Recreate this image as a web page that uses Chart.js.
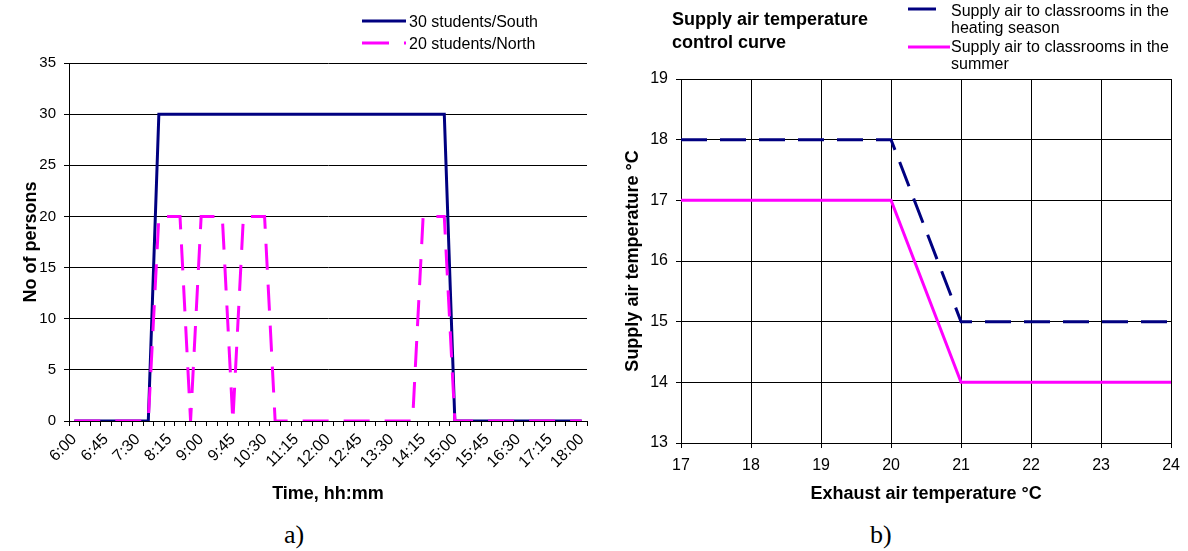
<!DOCTYPE html>
<html>
<head>
<meta charset="utf-8">
<script src="https://cdn.jsdelivr.net/npm/chart.js@4"></script>
<style>
  body { margin: 0; background: #fff; width: 1188px; height: 551px; position: relative; overflow: hidden; }
  canvas { position: absolute; top: 0; }
  #chartA { left: 0; }
  #chartB { left: 600px; }
  .cap { position: absolute; top: 520px; font-family: "Liberation Serif", "Times New Roman", serif; font-size: 26px; color: #000; }
</style>
</head>
<body>
<canvas id="chartA" width="600" height="509"></canvas>
<canvas id="chartB" width="588" height="509"></canvas>
<div class="cap" style="left:284px">a)</div>
<div class="cap" style="left:870px">b)</div>
<script>
// a) occupancy profile, 15 minute steps
const times = ["6:00","6:15","6:30","6:45","7:00","7:15","7:30","7:45","8:00","8:15","8:30","8:45",
  "9:00","9:15","9:30","9:45","10:00","10:15","10:30","10:45","11:00","11:15","11:30","11:45",
  "12:00","12:15","12:30","12:45","13:00","13:15","13:30","13:45","14:00","14:15","14:30","14:45",
  "15:00","15:15","15:30","15:45","16:00","16:15","16:30","16:45","17:00","17:15","17:30","17:45","18:00"];
const southPersons = [0,0,0,0,0,0,0,0,30,30,30,30,30,30,30,30,30,30,30,30,30,30,30,30,
  30,30,30,30,30,30,30,30,30,30,30,30,0,0,0,0,0,0,0,0,0,0,0,0,0];
const northPersons = [0,0,0,0,0,0,0,0,20,20,20,0,20,20,20,0,20,20,20,0,0,0,0,0,
  0,0,0,0,0,0,0,0,0,20,20,20,0,0,0,0,0,0,0,0,0,0,0,0,0];
const occupancyNames = ["30 students/South", "20 students/North"];

// b) supply air control curve
const exhaustTemps = [17, 20, 21, 24];
const supplyHeating = [18, 18, 15, 15];
const supplySummer = [17, 17, 14, 14];
const controlNames = ["Supply air to classrooms in the heating season", "Supply air to classrooms in the summer"];

const NAVY = '#000080';
const MAGENTA = '#ff00ff';
const FONT = 'Arial, "Liberation Sans", sans-serif';

Chart.defaults.font.family = FONT;
Chart.defaults.color = '#000';

// legend + title drawn at fixed spots like the original sheet
const sheetLegend = {
  id: 'sheetLegend',
  afterDraw(chart, args, opts) {
    const ctx = chart.ctx;
    ctx.save();
    ctx.fillStyle = '#000';
    ctx.textBaseline = 'middle';
    ctx.textAlign = 'left';
    if (opts.title) {
      ctx.font = 'bold 18px ' + FONT;
      opts.title.lines.forEach((t, i) => ctx.fillText(t, opts.title.x, opts.title.y + i * opts.title.lh));
    }
    opts.items.forEach(item => {
      const ds = chart.data.datasets[item.dataset];
      ctx.strokeStyle = ds.borderColor;
      ctx.lineWidth = ds.borderWidth;
      ctx.setLineDash(item.dash || []);
      ctx.beginPath();
      ctx.moveTo(item.x0, item.y);
      ctx.lineTo(item.x1, item.y);
      ctx.stroke();
      ctx.setLineDash([]);
      ctx.font = opts.fontSize + 'px ' + FONT;
      item.lines.forEach((t, i) => ctx.fillText(t, item.tx, item.ty + i * opts.lh));
    });
    ctx.restore();
  }
};

new Chart(document.getElementById('chartA'), {
  type: 'line',
  plugins: [sheetLegend],
  data: {
    labels: times,
    datasets: [{
      label: occupancyNames[1],
      data: northPersons,
      borderColor: MAGENTA,
      borderWidth: 3,
      borderDash: [26, 15],
      order: 0
    }, {
      label: occupancyNames[0],
      data: southPersons,
      borderColor: NAVY,
      borderWidth: 3,
      order: 1
    }]
  },
  options: {
    responsive: false,
    animation: false,
    layout: { padding: { left: 16, right: 13, top: 63, bottom: 0 } },
    elements: { point: { radius: 0 }, line: { tension: 0 } },
    plugins: {
      legend: { display: false },
      tooltip: { enabled: false },
      sheetLegend: {
        fontSize: 16, lh: 22,
        items: [
          { dataset: 1, x0: 362, x1: 406, y: 21, tx: 409, ty: 23, lines: [occupancyNames[0]] },
          { dataset: 0, x0: 362, x1: 406, y: 43, dash: [27, 15], tx: 409, ty: 45, lines: [occupancyNames[1]] }
        ]
      }
    },
    scales: {
      x: {
        offset: true,
        grid: { offset: true, drawOnChartArea: false, tickLength: 5, color: '#000' },
        border: { color: '#000' },
        ticks: {
          autoSkip: false, minRotation: 45, maxRotation: 45, padding: 4,
          font: { size: 16 },
          callback: function (v, i) { return i % 3 === 0 ? this.getLabelForValue(v) : ''; }
        },
        title: { display: true, text: 'Time, hh:mm', font: { size: 18, weight: 'bold' } },
        afterFit: s => { s.height = 88; }
      },
      y: {
        min: 0, max: 35,
        ticks: { stepSize: 5, font: { size: 15 }, padding: 8 },
        grid: { color: '#000', tickLength: 5 },
        border: { color: '#000' },
        title: { display: true, text: 'No of persons', font: { size: 18, weight: 'bold' } },
        afterFit: s => { s.width = 53; }
      }
    }
  }
});

new Chart(document.getElementById('chartB'), {
  type: 'line',
  plugins: [sheetLegend],
  data: {
    datasets: [{
      label: controlNames[0],
      data: exhaustTemps.map((x, i) => ({ x: x, y: supplyHeating[i] })),
      borderColor: NAVY,
      borderWidth: 3,
      borderDash: [26, 13]
    }, {
      label: controlNames[1],
      data: exhaustTemps.map((x, i) => ({ x: x, y: supplySummer[i] })),
      borderColor: MAGENTA,
      borderWidth: 3
    }]
  },
  options: {
    responsive: false,
    animation: false,
    layout: { padding: { left: 18, right: 13, top: 79, bottom: 0 } },
    elements: { point: { radius: 0 }, line: { tension: 0 } },
    plugins: {
      legend: { display: false },
      tooltip: { enabled: false },
      sheetLegend: {
        fontSize: 16, lh: 17,
        title: { x: 72, y: 20, lh: 23, lines: ['Supply air temperature', 'control curve'] },
        items: [
          { dataset: 0, x0: 308, x1: 350, y: 9, dash: [28, 14], tx: 351, ty: 12, lines: ['Supply air to classrooms in the', 'heating season'] },
          { dataset: 1, x0: 308, x1: 350, y: 47, tx: 351, ty: 48, lines: ['Supply air to classrooms in the', 'summer'] }
        ]
      }
    },
    scales: {
      x: {
        type: 'linear', min: 17, max: 24,
        ticks: { stepSize: 1, font: { size: 16 }, padding: 8 },
        grid: { color: '#000', tickLength: 5 },
        border: { color: '#000' },
        title: { display: true, text: 'Exhaust air temperature °C', font: { size: 18, weight: 'bold' } },
        afterFit: s => { s.height = 66; }
      },
      y: {
        min: 13, max: 19,
        ticks: { stepSize: 1, font: { size: 16 }, padding: 8 },
        grid: { color: '#000', tickLength: 5 },
        border: { color: '#000' },
        title: { display: true, text: 'Supply air temperature °C', font: { size: 18, weight: 'bold' } },
        afterFit: s => { s.width = 63; }
      }
    }
  }
});
</script>
</body>
</html>
